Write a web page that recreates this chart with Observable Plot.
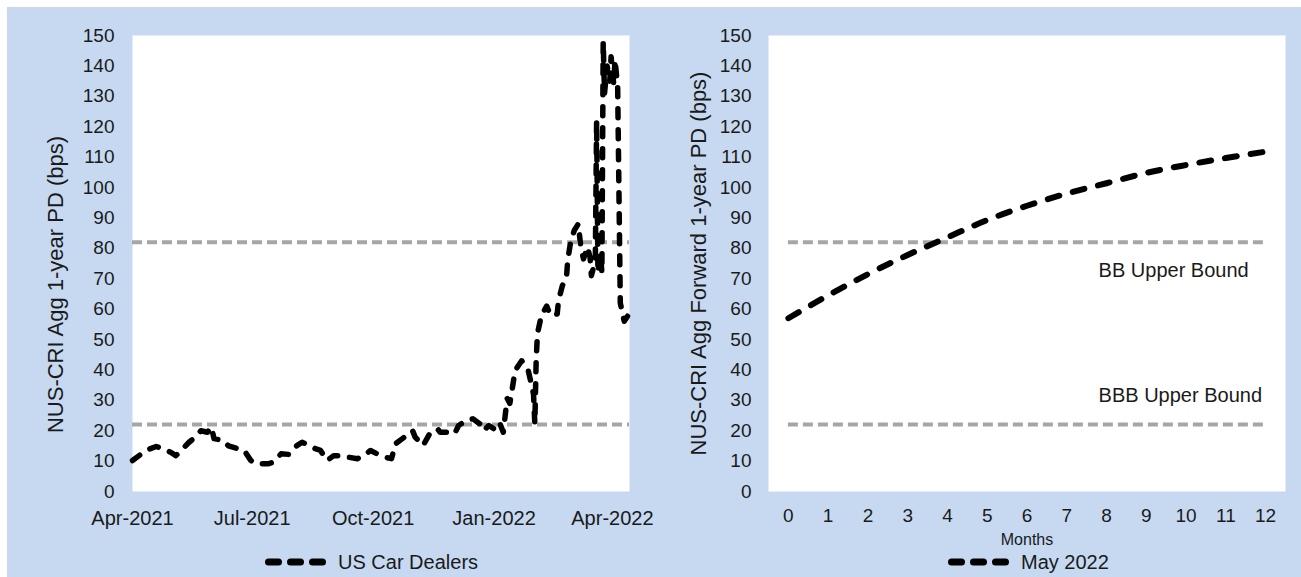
<!DOCTYPE html>
<html>
<head>
<meta charset="utf-8">
<script src="https://cdn.jsdelivr.net/npm/d3@7"></script>
<script src="https://cdn.jsdelivr.net/npm/@observablehq/plot@0.6"></script>
<style>
  html, body { margin: 0; padding: 0; background: #fff; }
  #wrap { position: relative; width: 1301px; height: 577px; background: #fff; overflow: hidden;
          font-family: "Liberation Sans", Arial, sans-serif; color: #1a1a1a; }
  #panel { position: absolute; left: 7px; top: 7px; right: 0; bottom: 0; background: #c6d9f1; }
  .chart { position: absolute; top: 0; }
  .legend { position: absolute; display: flex; align-items: center; font-size: 20px; line-height: 20px; }
  .legend svg { margin-right: 12px; }
</style>
</head>
<body>
<div id="wrap">
  <div id="panel"></div>
  <div id="c1" class="chart" style="left:0px"></div>
  <div id="c2" class="chart" style="left:650px"></div>
  <div id="leg1" class="legend" style="left:265px; top:552px"></div>
  <div id="leg2" class="legend" style="left:948px; top:552px"></div>
</div>
<script>
// ---------- data ----------
const dealerDates = [
  "2021-04-01","2021-04-06","2021-04-11","2021-04-19","2021-04-24","2021-04-30","2021-05-04","2021-05-08",
  "2021-05-14","2021-05-19","2021-05-23","2021-05-28","2021-05-31","2021-06-02","2021-06-09","2021-06-13",
  "2021-06-20","2021-06-25","2021-06-30","2021-07-04","2021-07-13","2021-07-17","2021-07-23","2021-07-29",
  "2021-08-04","2021-08-08","2021-08-14","2021-08-18","2021-08-22","2021-08-27","2021-09-01","2021-09-08",
  "2021-09-12","2021-09-19","2021-09-24","2021-09-29","2021-10-04","2021-10-10","2021-10-15","2021-10-18",
  "2021-10-23","2021-10-31","2021-11-02","2021-11-08","2021-11-13","2021-11-19","2021-11-21","2021-11-29",
  "2021-12-02","2021-12-05","2021-12-11","2021-12-16","2021-12-21","2021-12-24","2021-12-28","2022-01-01",
  "2022-01-05","2022-01-08","2022-01-10","2022-01-11","2022-01-13","2022-01-15","2022-01-17","2022-01-22",
  "2022-01-25","2022-01-27","2022-01-29","2022-01-31","2022-02-01","2022-02-02","2022-02-03","2022-02-06",
  "2022-02-10","2022-02-13","2022-02-18","2022-02-19","2022-02-22","2022-02-25","2022-02-26","2022-02-28",
  "2022-03-03","2022-03-06","2022-03-08","2022-03-10","2022-03-13","2022-03-15","2022-03-16","2022-03-19",
  "2022-03-20","2022-03-21","2022-03-23","2022-03-24","2022-03-25","2022-03-26","2022-03-28","2022-03-30",
  "2022-03-31","2022-04-02","2022-04-03","2022-04-05","2022-04-07","2022-04-08","2022-04-10","2022-04-13"
];
const dealerValues = [
  10.2,11.8,13.5,14.8,14.1,12.9,11.8,13.5,
  16.2,17.9,20.0,19.5,21.2,17.4,16.8,15.0,
  14.1,13.5,10.2,9.1,9.1,9.6,12.4,12.2,
  15.1,16.2,15.1,14.1,13.5,10.2,11.8,11.8,
  11.3,10.8,11.8,13.5,12.4,11.3,10.8,15.7,
  17.3,20.0,17.9,15.1,19.0,20.6,19.5,19.5,
  19.0,21.7,23.4,23.9,22.3,20.0,21.7,20.6,
  22.8,19.5,27.0,30.6,29.0,34.3,39.8,43.0,
  40.9,39.8,36.0,32.0,22.3,43.0,52.0,57.9,
  61.0,57.9,58.4,62.8,67.8,70.0,76.0,81.5,
  85.9,88.0,80.4,76.5,80.4,77.0,71.0,76.0,
  122.0,72.0,78.0,72.0,148.0,131.0,140.0,135.0,
  143.0,134.0,142.0,133.0,62.0,60.0,56.0,58.0
];
const xDomainDates = ["2021-04-01", "2022-04-14"];
const xTickDates = ["2021-04-01", "2021-07-01", "2021-10-01", "2022-01-01", "2022-04-01"];

const months = [0,1,2,3,4,5,6,7,8,9,10,11,12];
const forwardPD = [57, 64.5, 71.5, 77.8, 83.6, 89.3, 94, 98, 101.4, 104.8, 107.4, 109.7, 111.8];

const boundValues = [82, 22];
const boundLabels = ["BB Upper Bound", "BBB Upper Bound"];
const boundLabelX = [7.8, 7.8];
const boundLabelY = [72.7, 31.6];

const yTicks = d3.range(0, 151, 10);
const yDomain = [0, 150];
const leftYTitle = "NUS-CRI Agg 1-year PD (bps)";
const rightYTitle = "NUS-CRI Agg Forward 1-year PD (bps)";
const rightXTitle = "Months";
const legend1 = "US Car Dealers";
const legend2 = "May 2022";

// ---------- build ----------
const parse = d3.utcParse("%Y-%m-%d");
const dealers = dealerDates.map((d, i) => ({date: parse(d), value: dealerValues[i]}));
const forward = months.map((m, i) => ({month: m, value: forwardPD[i]}));
const bounds = boundValues.map(v => ({value: v}));
const boundText = boundLabels.map((t, i) => ({text: t, x: boundLabelX[i], y: boundLabelY[i]}));

const FONT = "'Liberation Sans', Arial, sans-serif";
const INK = "#1a1a1a";
const GRAY = "#a6a6a6";

const chart1 = Plot.plot({
  width: 650, height: 545,
  marginLeft: 132, marginRight: 21, marginTop: 35, marginBottom: 54,
  style: {background: "transparent", fontFamily: FONT, color: INK, overflow: "visible"},
  x: {type: "utc", domain: xDomainDates.map(parse)},
  y: {domain: yDomain},
  marks: [
    Plot.frame({fill: "white", stroke: "none"}),
    Plot.ruleY(bounds, {y: "value", stroke: GRAY, strokeWidth: 4, strokeDasharray: "10,5"}),
    Plot.line(dealers, {x: "date", y: "value", stroke: "black", strokeWidth: 5.5, strokeDasharray: "9,12",
      strokeLinecap: "round", strokeLinejoin: "round"}),
    Plot.axisY({ticks: yTicks, tickSize: 0, tickPadding: 18, fontSize: 19, label: null}),
    Plot.axisX({ticks: xTickDates.map(parse), tickFormat: d3.utcFormat("%b-%Y"), tickSize: 0,
      tickPadding: 19, fontSize: 20, label: null}),
    Plot.text([leftYTitle], {frameAnchor: "left", text: d => d, rotate: -90, dx: -77, dy: 21,
      fontSize: 22, fill: INK, textAnchor: "middle", lineAnchor: "middle"})
  ]
});
document.getElementById("c1").appendChild(chart1);

const chart2 = Plot.plot({
  width: 651, height: 545,
  marginLeft: 118, marginRight: 16, marginTop: 35, marginBottom: 54,
  style: {background: "transparent", fontFamily: FONT, color: INK, overflow: "visible"},
  x: {type: "linear", domain: [d3.min(months) - 0.5, d3.max(months) + 0.5]},
  y: {domain: yDomain},
  marks: [
    Plot.frame({fill: "white", stroke: "none"}),
    Plot.ruleY(bounds, {y: "value", x1: d3.min(months), x2: d3.max(months), stroke: GRAY, strokeWidth: 4,
      strokeDasharray: "10,5"}),
    Plot.line(forward, {x: "month", y: "value", stroke: "black", strokeWidth: 6, strokeDasharray: "12,14",
      strokeLinecap: "round", curve: "monotone-x"}),
    Plot.text(boundText, {x: "x", y: "y", text: "text", textAnchor: "start", lineAnchor: "middle",
      fontSize: 20, fill: INK}),
    Plot.axisY({ticks: yTicks, tickSize: 0, tickPadding: 17, fontSize: 19, label: null}),
    Plot.axisX({ticks: months, tickFormat: d => String(d), tickSize: 0, tickPadding: 17, fontSize: 19,
      label: null}),
    Plot.text([rightXTitle], {frameAnchor: "bottom", text: d => d, dy: 48, fontSize: 16, fill: INK,
      lineAnchor: "middle"}),
    Plot.text([rightYTitle], {frameAnchor: "left", text: d => d, rotate: -90, dx: -70, dy: 0,
      fontSize: 22, fill: INK, textAnchor: "middle", lineAnchor: "middle"})
  ]
});
document.getElementById("c2").appendChild(chart2);

function swatch(width) {
  const ns = "http://www.w3.org/2000/svg";
  const s = document.createElementNS(ns, "svg");
  s.setAttribute("width", width); s.setAttribute("height", 20);
  const l = document.createElementNS(ns, "line");
  l.setAttribute("x1", 3.5); l.setAttribute("x2", width - 3.5);
  l.setAttribute("y1", 10); l.setAttribute("y2", 10);
  l.setAttribute("stroke", "black"); l.setAttribute("stroke-width", 7);
  l.setAttribute("stroke-linecap", "round"); l.setAttribute("stroke-dasharray", "10,12");
  s.appendChild(l);
  return s;
}
function legend(id, label) {
  const el = document.getElementById(id);
  el.appendChild(swatch(61));
  const span = document.createElement("span");
  span.textContent = label;
  el.appendChild(span);
}
legend("leg1", legend1);
legend("leg2", legend2);
</script>
</body>
</html>
